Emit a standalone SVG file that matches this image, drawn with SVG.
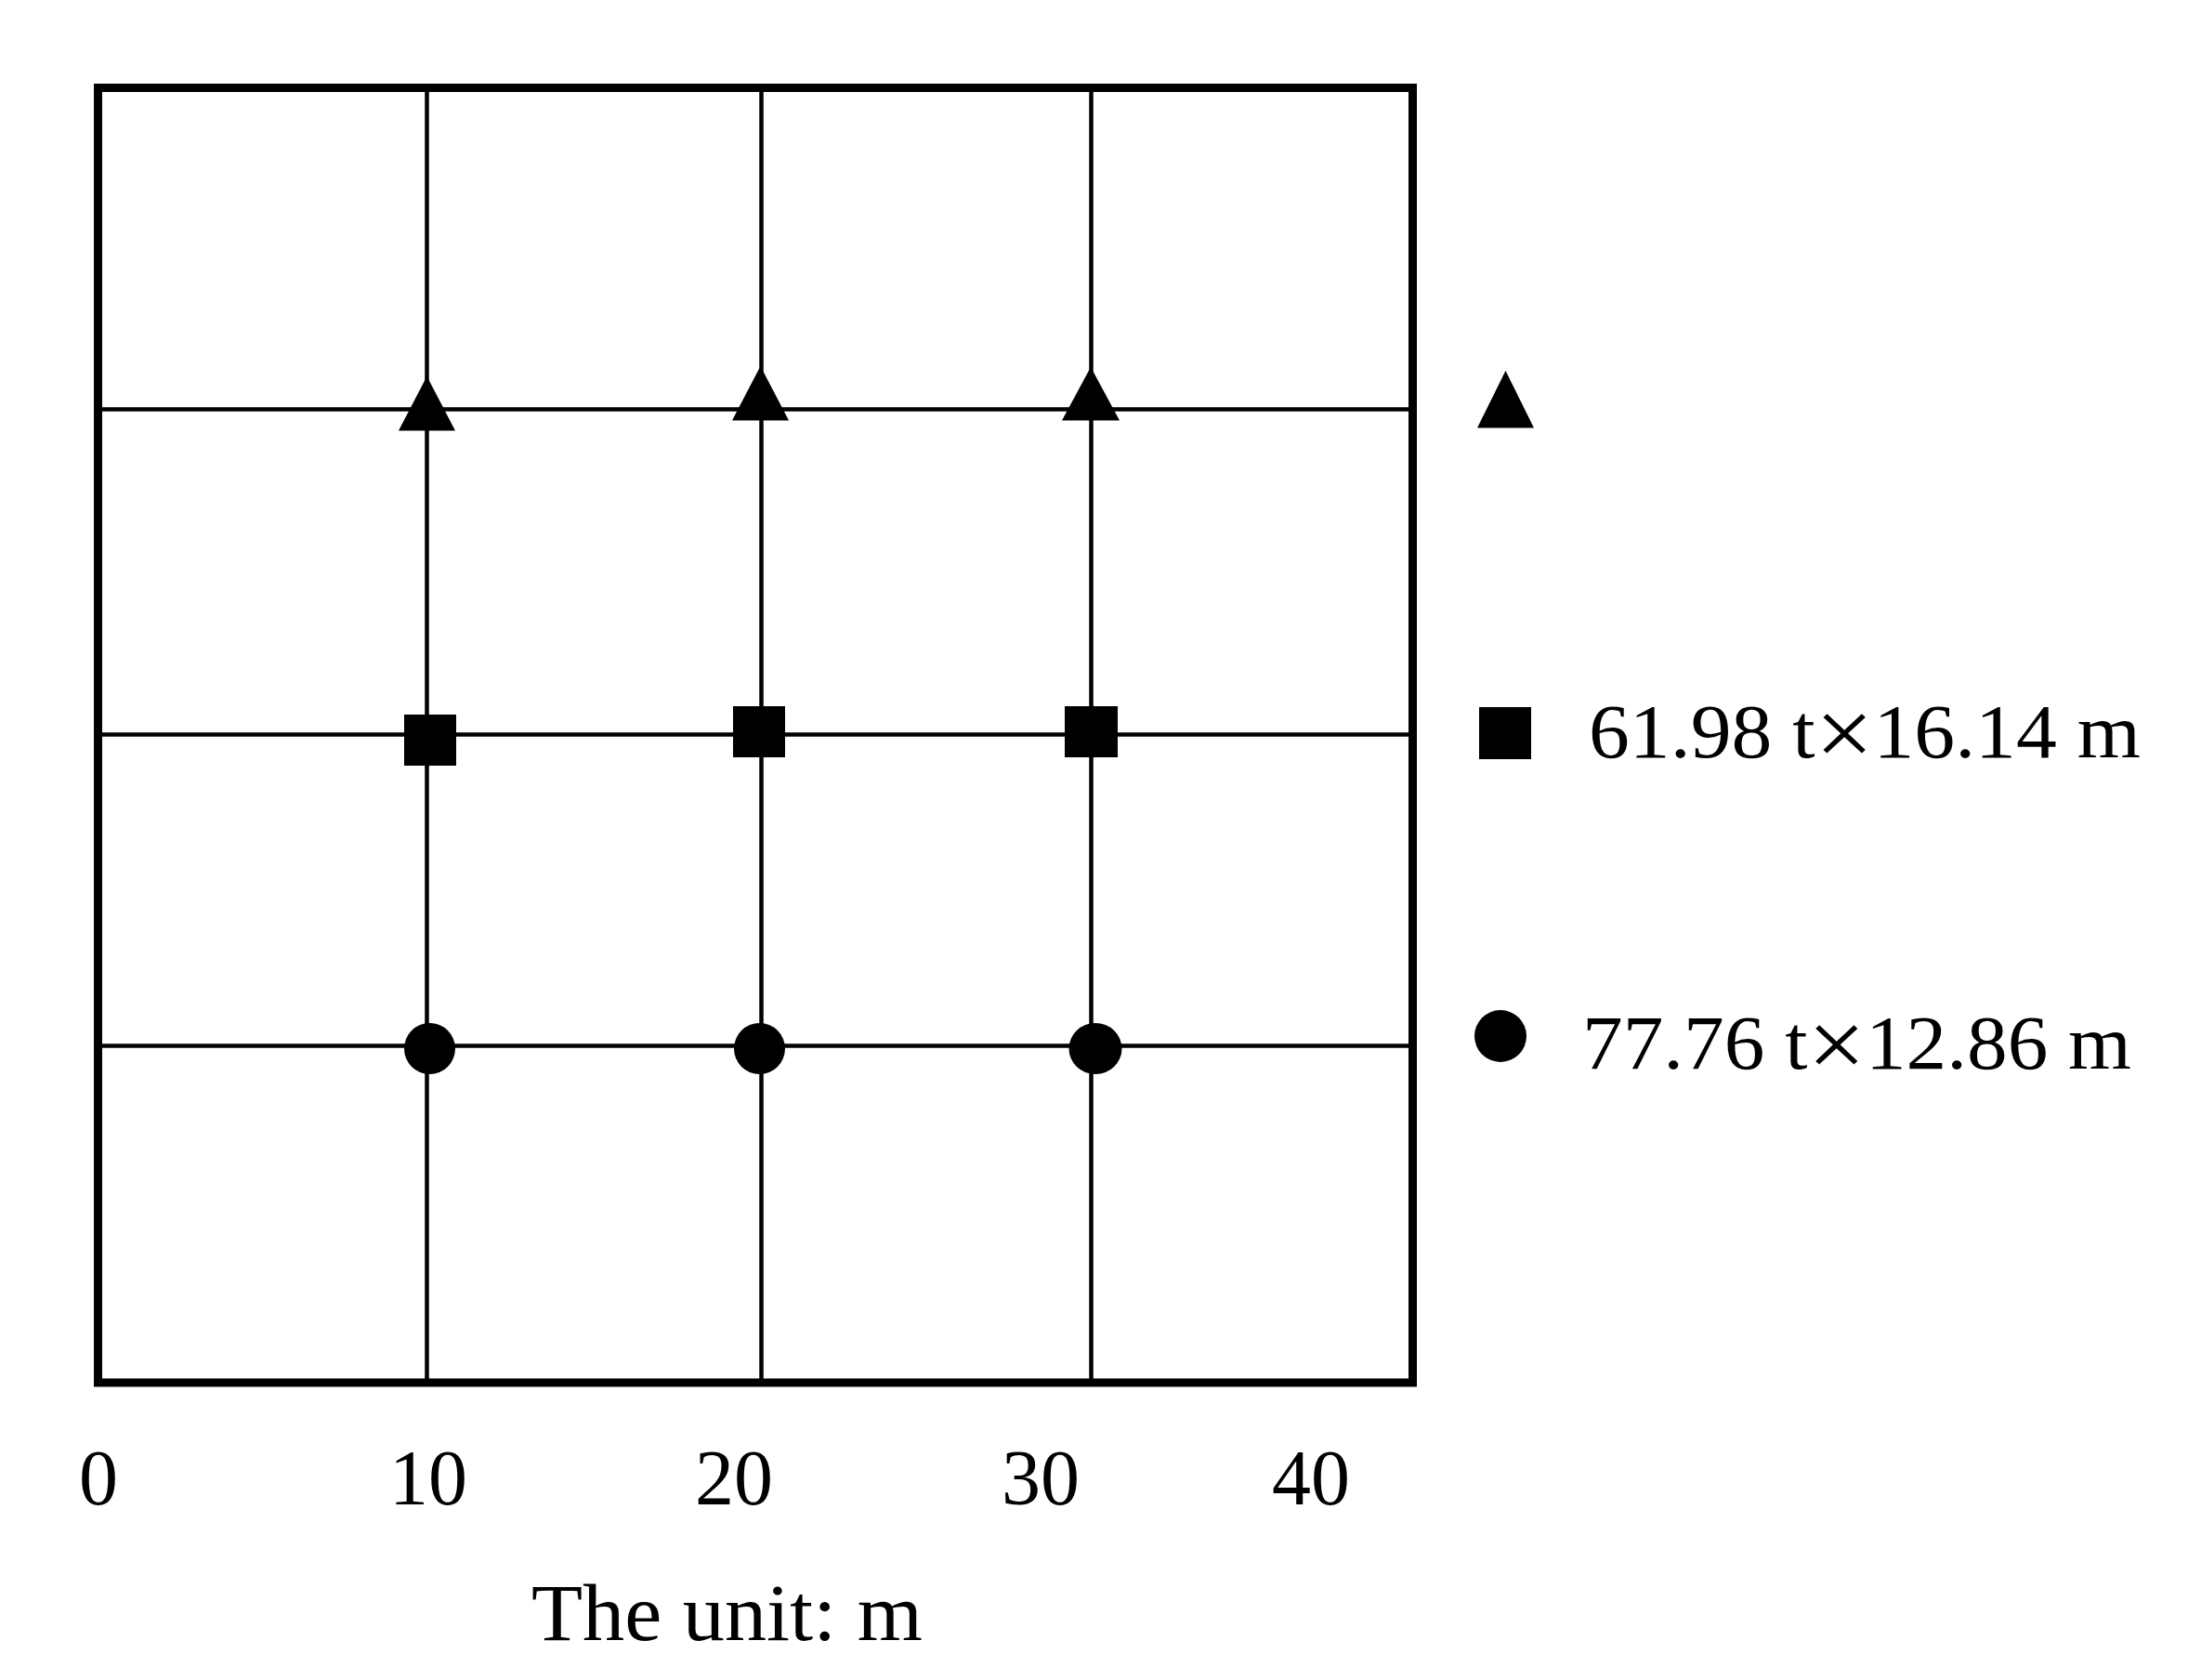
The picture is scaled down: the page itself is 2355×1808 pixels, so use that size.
<svg xmlns="http://www.w3.org/2000/svg" width="2355" height="1808" viewBox="0 0 2355 1808">
<style>
.grid{stroke:#000;stroke-width:4.5;fill:none}
.frame{stroke:#000;stroke-width:9;fill:none}
.mk{fill:#000;stroke:none}
.lbl{font-family:"Liberation Serif","Times New Roman",serif;fill:#000}
.x{font-size:104px}
</style>
<rect x="0" y="0" width="2355" height="1808" fill="#fff"/>
<g id="grid">
<line class="grid" x1="459.5" y1="94" x2="459.5" y2="1488"/>
<line class="grid" x1="819.5" y1="94" x2="819.5" y2="1488"/>
<line class="grid" x1="1174.5" y1="94" x2="1174.5" y2="1488"/>
<line class="grid" x1="105" y1="440.5" x2="1520" y2="440.5"/>
<line class="grid" x1="105" y1="790.5" x2="1520" y2="790.5"/>
<line class="grid" x1="105" y1="1125.5" x2="1520" y2="1125.5"/>
</g>
<g id="frame">
<rect class="frame" x="105.5" y="94.5" width="1415" height="1393.5"/>
</g>
<g id="triangles">
<polygon class="mk" points="459.5,405 490,463.5 429,463.5"/>
<polygon class="mk" points="818.5,394 849,452.5 788,452.5"/>
<polygon class="mk" points="1174,395 1205,452.5 1143,452.5"/>
</g>
<g id="squares">
<rect class="mk" x="435" y="769" width="56" height="55"/>
<rect class="mk" x="789" y="760" width="56" height="55"/>
<rect class="mk" x="1146" y="760" width="57" height="55"/>
</g>
<g id="circles">
<ellipse class="mk" cx="462.5" cy="1128.5" rx="27.5" ry="27.5"/>
<ellipse class="mk" cx="817.5" cy="1128.5" rx="27.5" ry="27.5"/>
<ellipse class="mk" cx="1179" cy="1128.5" rx="28.5" ry="27.5"/>
</g>
<g id="legend">
<polygon class="mk" points="1620.5,399 1651,460.5 1590,460.5"/>
<rect class="mk" x="1592" y="761" width="56" height="56"/>
<text class="lbl" x="1710" y="815" font-size="82" textLength="594" lengthAdjust="spacingAndGlyphs">61.98 t<tspan class="x" dy="9">×</tspan><tspan dy="-9">16.14 m</tspan></text>
<circle class="mk" cx="1615" cy="1115" r="28"/>
<text class="lbl" x="1703" y="1150" font-size="82" textLength="591" lengthAdjust="spacingAndGlyphs">77.76 t<tspan class="x" dy="9">×</tspan><tspan dy="-9">12.86 m</tspan></text>
</g>
<g id="axis-labels">
<text class="lbl" x="106" y="1619" font-size="84" text-anchor="middle">0</text>
<text class="lbl" x="461" y="1619" font-size="84" text-anchor="middle">10</text>
<text class="lbl" x="790" y="1619" font-size="84" text-anchor="middle">20</text>
<text class="lbl" x="1120" y="1619" font-size="84" text-anchor="middle">30</text>
<text class="lbl" x="1411" y="1619" font-size="84" text-anchor="middle">40</text>
<text class="lbl" x="572" y="1765" font-size="86" textLength="421" lengthAdjust="spacingAndGlyphs">The unit: m</text>
</g>
</svg>
